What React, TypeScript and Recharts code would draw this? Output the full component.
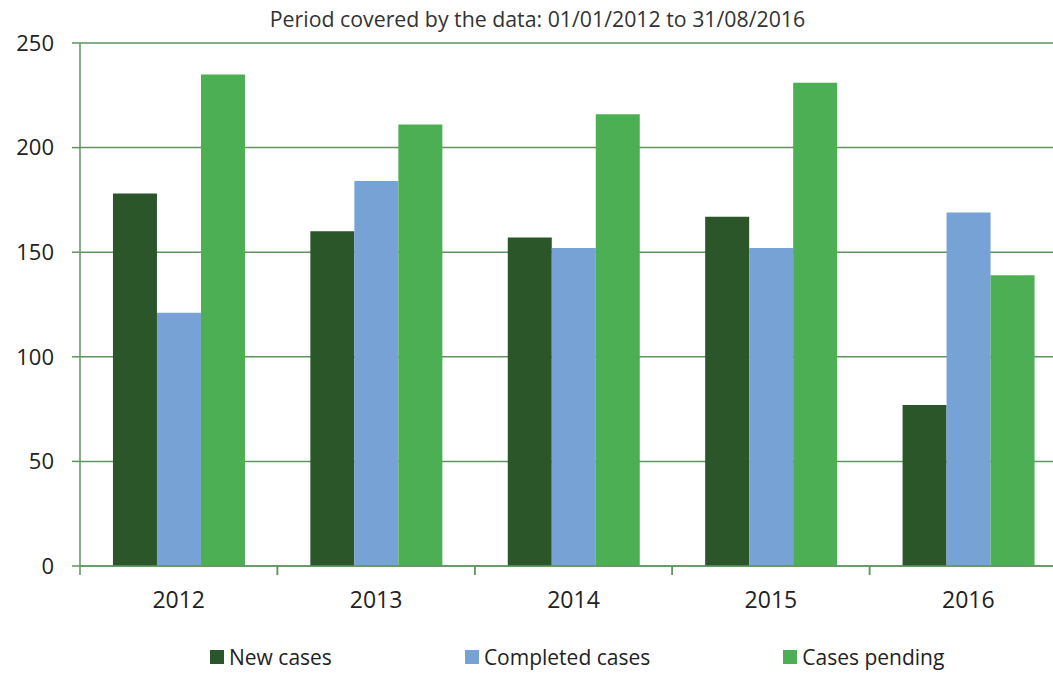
import React from 'react';
import { BarChart, Bar, XAxis, YAxis, CartesianGrid, Legend } from 'recharts';

const categories = ['2012', '2013', '2014', '2015', '2016'];
const newCases = [178, 160, 157, 167, 77];
const completedCases = [121, 184, 152, 152, 169];
const pendingCases = [235, 211, 216, 231, 139];
const yTicks = [0, 50, 100, 150, 200, 250];
const title = 'Period covered by the data: 01/01/2012 to 31/08/2016';

const seriesNames = ['New cases', 'Completed cases', 'Cases pending'];
const seriesColors = ['#2a5629', '#76a2d6', '#4daf53'];

const data = categories.map((c, i) => ({
  year: c,
  newCases: newCases[i],
  completed: completedCases[i],
  pending: pendingCases[i],
}));

const FONT = '"Open Sans", sans-serif';
const AXIS_COLOR = '#5f945f';
const TEXT = '#222';

const XTick = (props: any) => {
  const { x, y, payload } = props;
  const half = payload && payload.offset ? payload.offset : 0;
  return (
    <g>
      <line x1={x - half} x2={x - half} y1={y - 8} y2={y + 1} stroke={AXIS_COLOR} strokeWidth={1.5} />
      <line x1={x + half} x2={x + half} y1={y - 8} y2={y + 1} stroke={AXIS_COLOR} strokeWidth={1.5} />
      <text x={x} y={y + 34} textAnchor="middle" fontSize={23} fill={TEXT} fontFamily={FONT}>
        {payload.value}
      </text>
    </g>
  );
};

const LegendContent = () => (
  <div style={{ display: 'flex', paddingLeft: 210, paddingBottom: 3, height: 47, alignItems: 'flex-end', boxSizing: 'border-box', whiteSpace: 'nowrap', width: 1060 }}>
    {seriesNames.map((n, i) => (
      <div key={n} style={{ display: 'flex', alignItems: 'center', flexShrink: 0, marginRight: 133, height: 26, lineHeight: '26px', fontFamily: FONT, fontSize: 21, color: TEXT, whiteSpace: 'nowrap' }}>
        <span style={{ display: 'inline-block', flexShrink: 0, width: 14, height: 14, background: seriesColors[i], marginRight: 5 }} />
        <span style={{ whiteSpace: 'nowrap', lineHeight: '26px' }}>{n}</span>
      </div>
    ))}
  </div>
);

export default function App() {
  return (
    <div style={{ position: 'relative', width: 1053, height: 673, overflow: 'hidden', background: '#fff' }}>
      <style>{`body{margin:0}`}</style>
      <div style={{ position: 'absolute', left: 0, width: 1075, top: 4, textAlign: 'center', fontFamily: FONT, fontSize: 21.3, color: '#333', zIndex: 2, whiteSpace: 'nowrap' }}>
        {title}
      </div>
      <BarChart
        width={1070}
        height={673}
        data={data}
        margin={{ top: 43, right: 3, left: 0, bottom: 0 }}
        barGap={0}
        barCategoryGap="16.7%"
      >
        <CartesianGrid vertical={false} stroke={AXIS_COLOR} strokeWidth={1.5} />
        <YAxis
          width={80}
          domain={[0, 250]}
          ticks={yTicks}
          tickSize={8}
          tickMargin={18}
          axisLine={{ stroke: AXIS_COLOR, strokeWidth: 1.5 }}
          tickLine={{ stroke: AXIS_COLOR, strokeWidth: 1.5 }}
          tick={{ fontSize: 22, fill: TEXT, fontFamily: FONT }}
        />
        <XAxis
          dataKey="year"
          height={60}
          axisLine={{ stroke: AXIS_COLOR, strokeWidth: 1.5 }}
          tickLine={false}
          tick={<XTick />}
          interval={0}
        />
        <Legend verticalAlign="bottom" content={<LegendContent />} />
        <Bar dataKey="newCases" name={seriesNames[0]} fill={seriesColors[0]} isAnimationActive={false} />
        <Bar dataKey="completed" name={seriesNames[1]} fill={seriesColors[1]} isAnimationActive={false} />
        <Bar dataKey="pending" name={seriesNames[2]} fill={seriesColors[2]} isAnimationActive={false} />
      </BarChart>
    </div>
  );
}
